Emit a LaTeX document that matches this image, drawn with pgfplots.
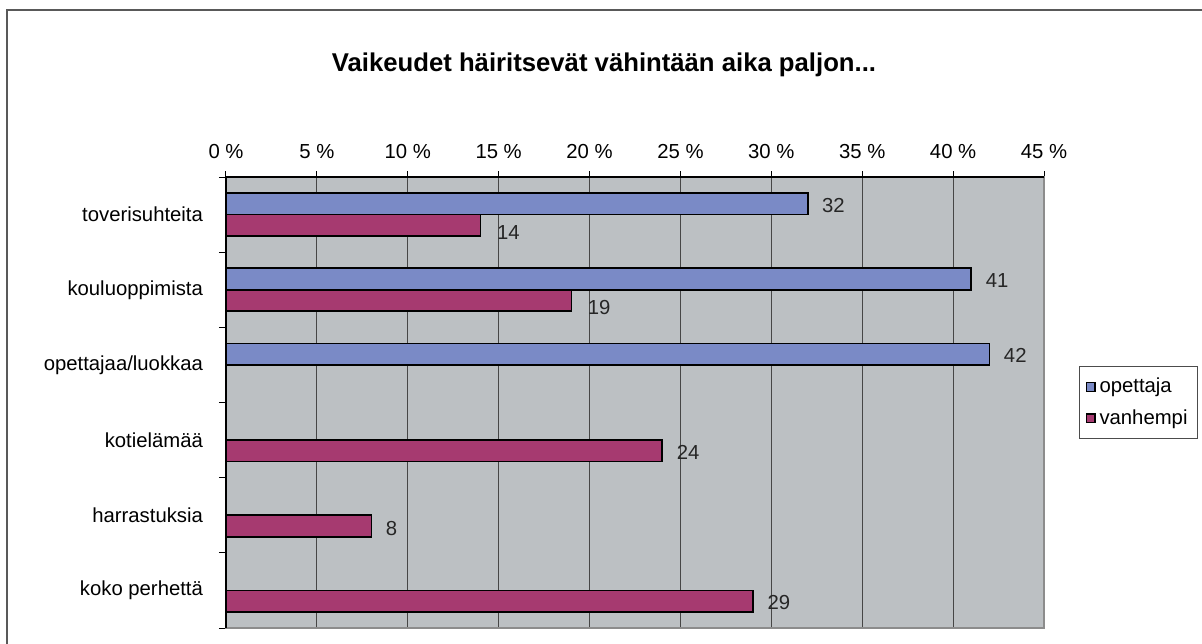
\documentclass[border=0pt]{standalone}
\usepackage{fontspec}
\setmainfont{Liberation Sans}
\usepackage{pgfplots}
\usepackage{pgfplotstable}
\pgfplotsset{compat=1.18}
\definecolor{plotbg}{RGB}{188,192,195}
\definecolor{blueb}{RGB}{122,138,198}
\definecolor{maroonb}{RGB}{166,58,112}
\definecolor{gridc}{RGB}{70,70,70}

\pgfplotstableread{
y opettaja vanhempi ody vdx vdy
0 32 14 -1.0 4.5 -3.6
1 41 19 -1.0 4.5 -3.6
2 42 nan -0.6 3.5 -1.0
3 nan 24 -1.0 3.5 -1.0
4 nan 8 -1.0 3.5 -1.3
5 nan 29 -1.0 3.5 -0.6
}\datatable

\begin{document}
\begin{tikzpicture}
\begin{axis}[
  name=ax,
  scale only axis, width=409pt, height=225.5pt,
  xbar, bar width=10.75pt,
  xmin=0, xmax=45, ymin=-0.5, ymax=5.5, y dir=reverse,
  xtick={0,5,...,45},
  xticklabels={0 \%,5 \%,10 \%,15 \%,20 \%,25 \%,30 \%,35 \%,40 \%,45 \%},
  xticklabel pos=right,
  xtick pos=right,
  ytick pos=left,
  ytick={0,...,5},
  yticklabels={toverisuhteita,kouluoppimista,opettajaa/luokkaa,kotielämää,harrastuksia,koko perhettä},
  minor ytick={-0.5,0.5,...,5.5},
  tick align=outside,
  major tick length=3pt, minor tick length=3.5pt,
  major y tick style={draw=none},
  tick style={black, line width=0.5pt},
  xmajorgrids,
  grid style={gridc, line width=0.5pt},
  axis background/.style={fill=plotbg},
  axis line style={draw=black!45, line width=0.6pt},
  tick label style={font=\fontsize{10.15}{12}\selectfont},
  xticklabel style={yshift=2.5pt},
  yticklabel style={xshift=-5pt},
  /pgf/number format/assume math mode=true,
  legend style={at={(1.0428,0.58)}, anchor=north west, draw=black!70, line width=0.5pt,
    font=\fontsize{10.15}{12}\selectfont, inner xsep=3pt, inner ysep=3.5pt, row sep=3pt},
  legend image code/.code={\draw[#1,draw=black,line width=0.6pt] (0pt,-2.2pt) rectangle (4.4pt,2.2pt);},
  legend cell align=left,
  after end axis/.code={\draw[black, line width=0.6pt] (axis description cs:0,0) -- (axis description cs:0,1) -- (axis description cs:1,1);},
]
\addplot[fill=blueb, draw=black, line width=0.85pt, bar shift=5.375pt,
  visualization depends on={\thisrow{ody} \as \ody},
  nodes near coords,
  nodes near coords style={font=\fontsize{10.15}{12}\selectfont, xshift=3.5pt, yshift=\ody pt, black!85}]
  table[x=opettaja, y=y] {\datatable};
\addlegendentry{opettaja}
\addplot[fill=maroonb, draw=black, line width=0.85pt, bar shift=-5.375pt,
  visualization depends on={\thisrow{vdx} \as \vdx},
  visualization depends on={\thisrow{vdy} \as \vdy},
  nodes near coords,
  nodes near coords style={font=\fontsize{10.15}{12}\selectfont, xshift=\vdx pt, yshift=\vdy pt, black!85}]
  table[x=vanhempi, y=y] {\datatable};
\addlegendentry{vanhempi}
\end{axis}
\pgfresetboundingbox
\begin{scope}[shift={(ax.south west)}, x=1pt, y=1pt]
\path[use as bounding box] (-113,-7.5) rectangle (488,314);
\draw[line width=0.7pt, color=black!65] (-109.5,-9) -- (-109.5,309) -- (490,309);
\node[font=\fontsize{12.85}{15}\selectfont\bfseries] at (189,281.5) {Vaikeudet häiritsevät vähintään aika paljon...};
\end{scope}
\end{tikzpicture}
\end{document}
